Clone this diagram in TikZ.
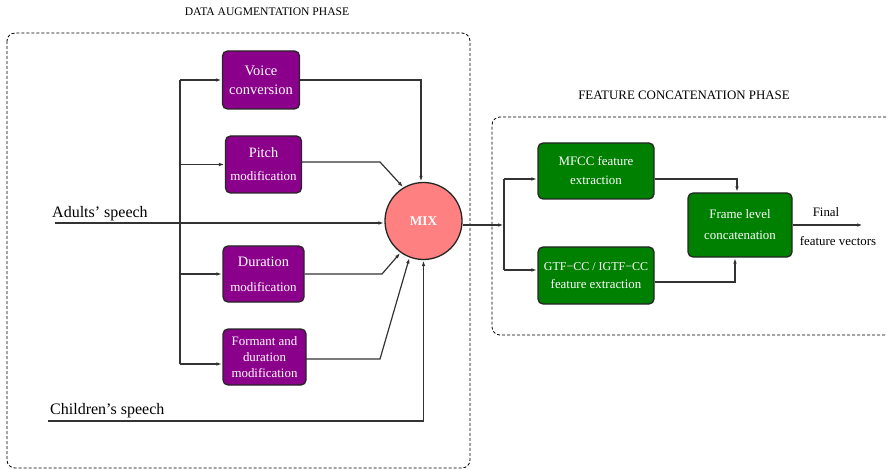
\documentclass[tikz,border=0pt]{standalone}
\usepackage{fontspec}
\setmainfont{Liberation Serif}
\usepackage{xcolor}
\usepackage{tikz}
\usetikzlibrary{arrows.meta,positioning,calc}

\definecolor{augpurple}{RGB}{139,0,139}
\definecolor{featgreen}{RGB}{0,128,0}
\definecolor{mixred}{RGB}{255,128,128}

\begin{document}
\begin{tikzpicture}[x=1pt,y=-1pt,
  augbox/.style={draw=black!85,line width=1.3pt,rounded corners=5pt,fill=augpurple,
    text=white,align=center,inner sep=0pt,minimum width=77pt,minimum height=57pt},
  featbox/.style={draw=black!85,line width=1.3pt,rounded corners=5pt,fill=featgreen,
    text=white,align=center,inner sep=0pt,minimum width=116pt,minimum height=56pt},
  phase/.style={draw=black,line width=0.8pt,dash pattern=on 3pt off 2pt,rounded corners=8pt},
  arrow/.style={-{Latex[length=6pt,width=3.5pt]},draw=black!80,line width=1.2pt},
  link/.style={draw=black!80,line width=1.2pt}]
  \useasboundingbox (0,0) rectangle (888,470);

  % phase frames and titles
  \draw[phase] (7,33) rectangle (470,468);
  \draw[phase] (886,117) -- (492,117) -- (492,335) -- (886,335);
  \node[font=\fontsize{11.6}{14}\selectfont] (augtitle) at (267,12) {DATA AUGMENTATION PHASE};
  \node[font=\fontsize{12.9}{15}\selectfont] (feattitle) at (684,95) {FEATURE CONCATENATION PHASE};

  % augmentation blocks
  \node[augbox,minimum height=58pt,font=\fontsize{14.5}{19}\selectfont] (VC) at (261,80)
    {Voice\\ conversion};
  \node[augbox,minimum width=76pt,font=\fontsize{14.3}{23}\selectfont] (PM) at (263.5,164.5)
    {Pitch\\ \fontsize{13}{23}\selectfont modification};
  \node[augbox,minimum width=81pt,minimum height=56pt,font=\fontsize{14.4}{25}\selectfont] (DM) at (263.5,274)
    {Duration\\ \fontsize{13}{25}\selectfont modification};
  \node[augbox,minimum width=83pt,minimum height=56pt,font=\fontsize{12.9}{16}\selectfont] (FM) at (264.5,357)
    {Formant and\\ duration\\ modification};
  \node[circle,draw=black!85,line width=1.3pt,fill=mixred,minimum size=77pt,inner sep=0pt,
    text=white,font=\bfseries\fontsize{13.3}{15}\selectfont] (MIX) at (423.5,221) {MIX};

  % speech inputs
  \coordinate (adult) at (55,223);
  \coordinate (child) at (48,421);
  \node[font=\rmfamily\fontsize{16}{18}\selectfont,anchor=south west,inner sep=1pt] (adultlbl) at (51,222) {Adults' speech};
  \node[font=\rmfamily\fontsize{16}{18}\selectfont,anchor=south west,inner sep=1pt] (childlbl) at (49,419) {Children's speech};
  \draw[arrow] (adult) -- (adult -| MIX.west);
  \draw[arrow] (child) -| (MIX.south);

  % distribution bus
  \coordinate (bustop) at (180,80);
  \coordinate (busbot) at (180,364);
  \draw[link] (bustop) -- (busbot);
  \draw[arrow] (bustop) -- (bustop -| VC.west);
  \draw[arrow] (180,164.5) -- (PM.west);
  \draw[arrow] (180,274) -- (DM.west);
  \draw[arrow] (busbot) -- (busbot -| FM.west);

  % into the mixer
  \draw[arrow] (VC.east) -| ([xshift=-2.5pt]MIX.north);
  \draw[arrow] (302,162) -- (380,162) -- (MIX.121);
  \draw[arrow] (DM.east) -- (382,274) -- (MIX.234);
  \draw[arrow] (306,359) -- (380,359) -- (MIX.249);

  % feature blocks
  \node[featbox,font=\fontsize{12.9}{19}\selectfont] (MFCC) at (596,171)
    {MFCC feature\\ extraction};
  \node[featbox,minimum height=57pt,font=\fontsize{12}{18}\selectfont] (GTF) at (596,275.5)
    {GTF−CC / IGTF−CC\\ \fontsize{12.9}{18}\selectfont feature extraction};
  \node[featbox,minimum width=104pt,minimum height=64pt,font=\fontsize{12.9}{21}\selectfont] (FL) at (740,225)
    {Frame level\\ concatenation};

  \coordinate (split) at (504,225);
  \draw[arrow] (MIX.east |- split) -- (split);
  \draw[link] (504,179) -- (504,270);
  \draw[arrow] (504,179) -- (MFCC.west |- 0,179);
  \draw[arrow] (504,270) -- (GTF.west |- 0,270);
  \draw[arrow] (MFCC.east |- 0,179) -| (FL.north -| 737,0);
  \draw[arrow] (GTF.east |- 0,282) -| (FL.south -| 735,0);

  % output
  \coordinate (out) at (863,225);
  \draw[arrow] (FL.east) -- (out);
  \node[font=\fontsize{12.9}{15}\selectfont] (finallbl) at (826,212) {Final};
  \node[font=\fontsize{12.9}{15}\selectfont] (veclbl) at (838,241) {feature vectors};
\end{tikzpicture}
\end{document}
